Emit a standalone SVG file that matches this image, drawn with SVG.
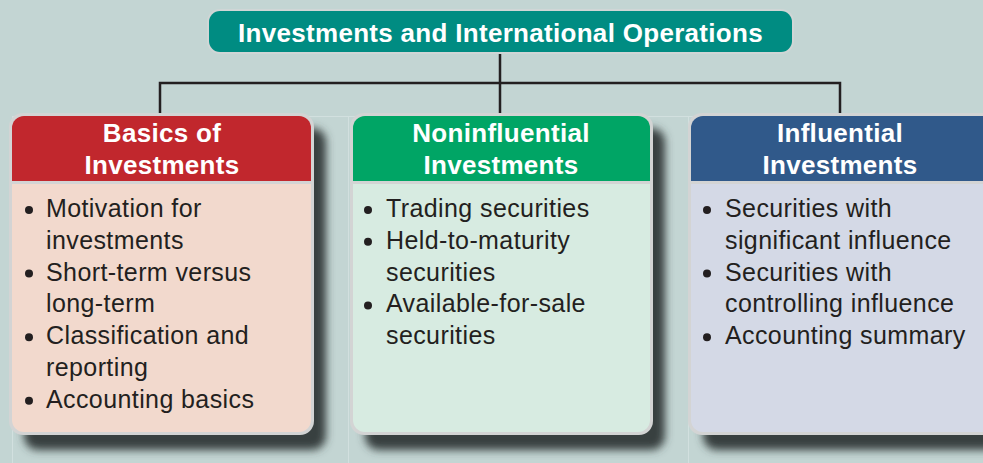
<svg xmlns="http://www.w3.org/2000/svg" width="983" height="463" viewBox="0 0 983 463">
  <style>
    .title { font-family: "Liberation Sans", Arial, sans-serif; font-weight: bold; font-size: 26px; fill: #ffffff; text-anchor: middle; letter-spacing: 0.3px; }
    .head { font-family: "Liberation Sans", Arial, sans-serif; font-weight: bold; font-size: 26px; fill: #ffffff; text-anchor: middle; letter-spacing: 0.3px; }
    .item { font-family: "Liberation Sans", Arial, sans-serif; font-size: 25px; fill: #231f20; letter-spacing: 0.4px; }
    .dot { fill: #231f20; }
    .frame { fill: #d3d4d4; }
    .shadow { fill: #37413f; filter: url(#blur); }
    .grid { stroke: #d2e0df; stroke-width: 1; fill: none; }
    .wire { stroke: #231f20; stroke-width: 2.5; fill: none; }
  </style>
  <defs>
    <filter id="blur" x="-10%" y="-10%" width="130%" height="130%">
      <feGaussianBlur stdDeviation="4.5"/>
    </filter>
  </defs>

  <!-- background -->
  <rect x="0" y="0" width="983" height="463" fill="#c3d5d3"/>
  <path class="grid" d="M12.5,116 V463 M348.5,116 V463 M688.5,116 V463 M12,116.5 H983"/>

  <!-- connectors -->
  <g id="connectors">
    <path class="wire" d="M500,53 V113 M160,83 H840 M160,81.75 V113 M840,81.75 V113"/>
  </g>

  <!-- root -->
  <g id="root">
    <rect x="207" y="9" width="587" height="45" rx="13" fill="#d0d6d6"/>
    <rect x="209" y="11" width="583" height="41" rx="11" fill="#008c82"/>
    <text class="title" x="500.5" y="42">Investments and International Operations</text>
  </g>

  <!-- basics -->
  <g id="basics">
    <rect class="shadow" x="24" y="128" width="302" height="322" rx="14"/>
    <rect class="frame" x="9" y="113" width="305" height="322" rx="14"/>
    <path d="M12,181 V128 A12,12 0 0 1 24,116 H299 A12,12 0 0 1 311,128 V181 Z" fill="#c1272d"/>
    <path d="M12,184 H311 V420 A12,12 0 0 1 299,432 H24 A12,12 0 0 1 12,420 Z" fill="#f2d9cd"/>
    <text class="head" x="162" y="142">Basics of</text>
    <text class="head" x="162" y="174">Investments</text>
    <circle class="dot" cx="29" cy="210" r="4"/>
    <circle class="dot" cx="29" cy="273.6" r="4"/>
    <circle class="dot" cx="29" cy="337.2" r="4"/>
    <circle class="dot" cx="29" cy="400.8" r="4"/>
    <text class="item" x="46" y="217">Motivation for</text>
    <text class="item" x="46" y="248.8">investments</text>
    <text class="item" x="46" y="280.6">Short-term versus</text>
    <text class="item" x="46" y="312.4">long-term</text>
    <text class="item" x="46" y="344.2">Classification and</text>
    <text class="item" x="46" y="376">reporting</text>
    <text class="item" x="46" y="407.8">Accounting basics</text>
  </g>

  <!-- noninfluential -->
  <g id="noninfluential">
    <rect class="shadow" x="365" y="128" width="300" height="322" rx="14"/>
    <rect class="frame" x="350" y="113" width="303" height="322" rx="14"/>
    <path d="M353,181 V128 A12,12 0 0 1 365,116 H638 A12,12 0 0 1 650,128 V181 Z" fill="#00a565"/>
    <path d="M353,184 H650 V420 A12,12 0 0 1 638,432 H365 A12,12 0 0 1 353,420 Z" fill="#d7ebe1"/>
    <text class="head" x="501" y="142">Noninfluential</text>
    <text class="head" x="501" y="174">Investments</text>
    <circle class="dot" cx="368" cy="210" r="4"/>
    <circle class="dot" cx="368" cy="241.8" r="4"/>
    <circle class="dot" cx="368" cy="305.4" r="4"/>
    <text class="item" x="386" y="217">Trading securities</text>
    <text class="item" x="386" y="248.8">Held-to-maturity</text>
    <text class="item" x="386" y="280.6">securities</text>
    <text class="item" x="386" y="312.4">Available-for-sale</text>
    <text class="item" x="386" y="344.2">securities</text>
  </g>

  <!-- influential -->
  <g id="influential">
    <rect class="shadow" x="703" y="128" width="320" height="322" rx="14"/>
    <rect class="frame" x="688" y="113" width="320" height="322" rx="14"/>
    <path d="M691,181 V128 A12,12 0 0 1 703,116 H1005 V181 Z" fill="#30598a"/>
    <path d="M691,184 H1005 V432 H703 A12,12 0 0 1 691,420 Z" fill="#d4d9e6"/>
    <text class="head" x="840" y="142">Influential</text>
    <text class="head" x="840" y="174">Investments</text>
    <circle class="dot" cx="707" cy="210" r="4"/>
    <circle class="dot" cx="707" cy="273.6" r="4"/>
    <circle class="dot" cx="707" cy="337.2" r="4"/>
    <text class="item" x="725" y="217">Securities with</text>
    <text class="item" x="725" y="248.8">significant influence</text>
    <text class="item" x="725" y="280.6">Securities with</text>
    <text class="item" x="725" y="312.4">controlling influence</text>
    <text class="item" x="725" y="344.2">Accounting summary</text>
  </g>
</svg>
